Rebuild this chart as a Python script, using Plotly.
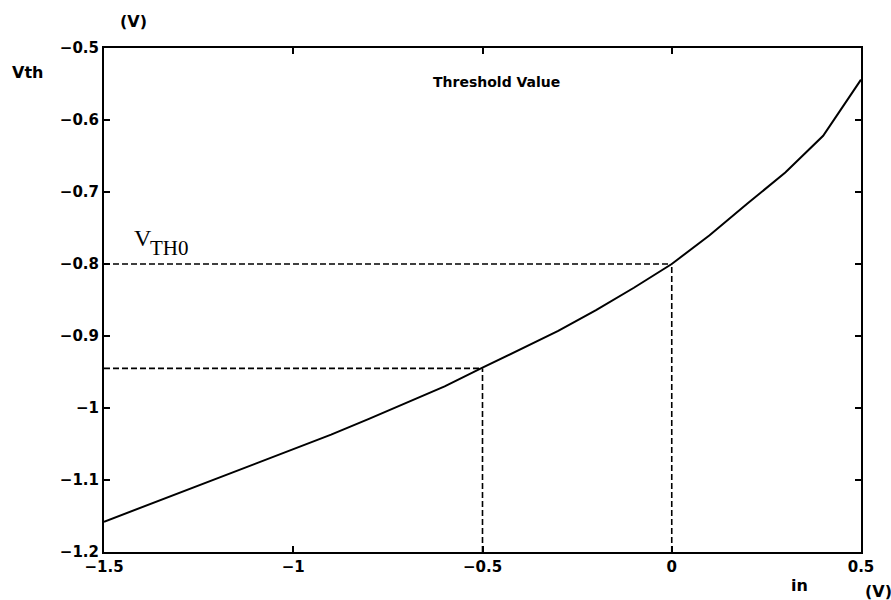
import plotly.graph_objects as go

vin = [-1.5, -1.4, -1.3, -1.2, -1.1, -1.0, -0.9, -0.8, -0.7, -0.6, -0.5,
       -0.4, -0.3, -0.2, -0.1, 0.0, 0.1, 0.2, 0.3, 0.4, 0.5]
vth = [-1.158, -1.138, -1.118, -1.098, -1.078, -1.058, -1.037, -1.015, -0.993, -0.970, -0.944,
       -0.918, -0.893, -0.864, -0.833, -0.800, -0.760, -0.716, -0.673, -0.622, -0.544]

ref_x = [-0.5, 0.0]
ref_y = [-0.945, -0.80]

x_ticks = [-1.5, -1, -0.5, 0, 0.5]
x_tick_text = ["\u22121.5", "\u22121", "\u22120.5", "0", "0.5"]
y_ticks = [-1.2, -1.1, -1.0, -0.9, -0.8, -0.7, -0.6, -0.5]
y_tick_text = ["\u22121.2", "\u22121.1", "\u22121", "\u22120.9", "\u22120.8", "\u22120.7", "\u22120.6", "\u22120.5"]

fig = go.Figure()

dash_style = dict(color="black", width=1.6, dash="6px,3px")
for xv, yv in zip(ref_x, ref_y):
    fig.add_trace(go.Scatter(x=[-1.5, xv], y=[yv, yv], mode="lines", line=dash_style,
                             showlegend=False, hoverinfo="skip"))
    fig.add_trace(go.Scatter(x=[xv, xv], y=[-1.2, yv], mode="lines", line=dash_style,
                             showlegend=False, hoverinfo="skip"))

fig.add_trace(go.Scatter(x=vin, y=vth, mode="lines", line=dict(color="black", width=2),
                         showlegend=False))

SANS = "DejaVu Sans, Arial"
tickfont = dict(family=SANS, size=15, color="black", weight="bold")

W, H = 891, 600
l, r, t, b = 104, 30, 48, 48

fig.update_layout(
    width=W, height=H,
    margin=dict(l=l, r=r, t=t, b=b),
    paper_bgcolor="white", plot_bgcolor="white",
    xaxis=dict(range=[-1.5, 0.5], tickvals=x_ticks, ticktext=x_tick_text,
               showgrid=False, zeroline=False, showline=True, linecolor="black", linewidth=2,
               mirror="ticks", ticks="inside", ticklen=6, tickwidth=1.5, tickcolor="black",
               tickfont=tickfont),
    yaxis=dict(range=[-1.2, -0.5], tickvals=y_ticks, ticktext=y_tick_text,
               showgrid=False, zeroline=False, showline=True, linecolor="black", linewidth=2,
               mirror="ticks", ticks="inside", ticklen=6, tickwidth=1.5, tickcolor="black",
               tickfont=tickfont),
)

lab = dict(family=SANS, size=16, color="black", weight="bold")
annots = [
    dict(text="Vth", px=27, py=72, font=lab),
    dict(text="(V)", px=133, py=22, font=lab),
    dict(text="Threshold Value", px=497, py=82,
         font=dict(family=SANS, size=14, color="black", weight="bold")),
    dict(text="in", px=799, py=585, font=lab),
    dict(text="(V)", px=878, py=591, font=lab),
    dict(text="V", px=143, py=238,
         font=dict(family="Liberation Serif, Times New Roman", size=24, color="black")),
    dict(text="TH0", px=169, py=248,
         font=dict(family="Liberation Serif, Times New Roman", size=21, color="black")),
]
pw, ph = W - l - r, H - t - b
for a in annots:
    fig.add_annotation(x=(a["px"] - l) / pw, y=1 - (a["py"] - t) / ph, xref="paper", yref="paper",
                       text=a["text"], showarrow=False, font=a["font"],
                       xanchor="center", yanchor="middle")

fig.write_html("out.html")
